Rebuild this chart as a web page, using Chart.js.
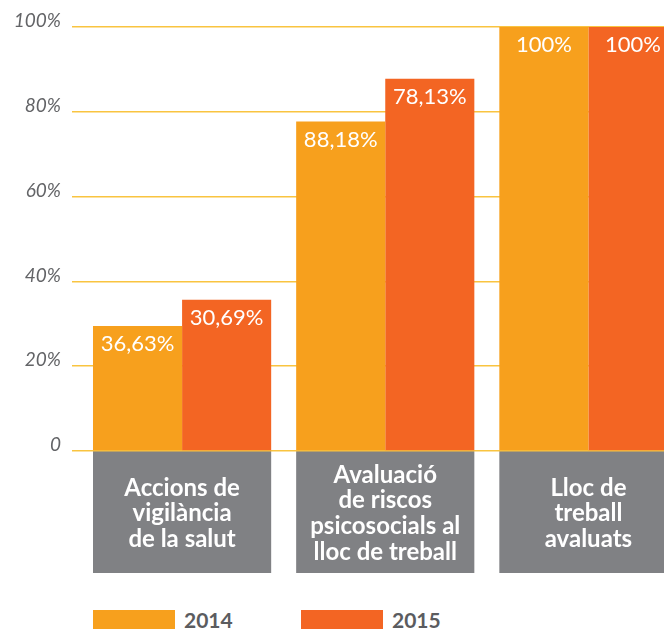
<!DOCTYPE html>
<html>
<head>
<meta charset="utf-8">
<script src="https://cdn.jsdelivr.net/npm/chart.js@4.4.0/dist/chart.umd.min.js"></script>
<style>
    body { margin: 0; background: #fff; overflow: hidden; width: 664px; height: 630px; position: relative; }
    #chart { display: block; }
    #legend { position: absolute; left: 93px; top: 610px; display: flex; font-family: Lato, sans-serif; font-weight: bold; font-size: 21px; color: #5b5c5f; }
    .item { display: flex; align-items: center; width: 208px; height: 19px; }
    .swatch { width: 82px; height: 19px; margin-right: 9px; }
</style>
</head>
<body>
<canvas id="chart" width="690" height="600"></canvas>
<div id="legend"></div>
<script>
// Categories and series
var categories = [
    ["Accions de", "vigilància", "de la salut"],
    ["Avaluació", "de riscos", "psicosocials al", "lloc de treball"],
    ["Lloc de", "treball", "avaluats"]
];
var seriesNames = ["2014", "2015"];
// bar heights
var values2014 = [29.5, 77.7, 100];
var values2015 = [35.7, 87.8, 100];
// texts printed on the bars
var labels2014 = ["36,63%", "88,18%", "100%"];
var labels2015 = ["30,69%", "78,13%", "100%"];
var yTicks = [0, 20, 40, 60, 80, 100];

var colors = ["#F7A01D", "#F36523"];
var catPct = 0.877;

// gray boxes behind the category labels
var categoryBoxes = {
    id: "categoryBoxes",
    beforeDraw: function (chart) {
        var x = chart.scales.x;
        var area = chart.chartArea;
        var ctx = chart.ctx;
        var w = (x.getPixelForValue(1) - x.getPixelForValue(0)) * catPct;
        ctx.save();
        ctx.fillStyle = "#808184";
        for (var i = 0; i < categories.length; i++) {
            var c = x.getPixelForValue(i);
            ctx.fillRect(c - w / 2, area.bottom, w, x.bottom - area.bottom);
        }
        ctx.restore();
    }
};

// value texts inside the bars
var barLabels = {
    id: "barLabels",
    afterDatasetsDraw: function (chart) {
        var ctx = chart.ctx;
        var texts = [labels2014, labels2015];
        ctx.save();
        ctx.font = "22px Lato";
        ctx.fillStyle = "#fff";
        ctx.textAlign = "center";
        ctx.textBaseline = "middle";
        chart.data.datasets.forEach(function (ds, d) {
            chart.getDatasetMeta(d).data.forEach(function (bar, i) {
                ctx.fillText(texts[d][i], bar.x, bar.y + 18);
            });
        });
        ctx.restore();
    }
};

var chart = new Chart(document.getElementById("chart"), {
    type: "bar",
    data: {
        labels: categories,
        datasets: [
            { label: seriesNames[0], data: values2014, backgroundColor: colors[0] },
            { label: seriesNames[1], data: values2015, backgroundColor: colors[1] }
        ]
    },
    options: {
        responsive: false,
        animation: false,
        categoryPercentage: catPct,
        barPercentage: 1,
        layout: { padding: { top: 27, bottom: 27, left: 0, right: 0 } },
        plugins: {
            legend: { display: false },
            tooltip: { enabled: false }
        },
        scales: {
            x: {
                grid: { display: false },
                border: { display: false },
                afterFit: function (scale) { scale.height = 122; },
                ticks: {
                    color: "#fff",
                    padding: 16,
                    maxRotation: 0,
                    autoSkip: false,
                    crossAlign: "center",
                    font: { family: "Lato", weight: "bold", size: 24, lineHeight: 1.07 }
                }
            },
            y: {
                min: 0,
                max: 100,
                afterFit: function (scale) { scale.width = 80.5; },
                afterBuildTicks: function (scale) {
                    scale.ticks = yTicks.map(function (v) { return { value: v }; });
                },
                border: { display: false },
                grid: { color: "#F9C440", lineWidth: 1.5, tickLength: 8.5 },
                ticks: {
                    color: "#636467",
                    padding: 11,
                    labelOffset: -6,
                    font: { family: "Lato", style: "italic", size: 19 },
                    callback: function (v) { return v === 0 ? "0" : v + "%"; }
                }
            }
        }
    },
    plugins: [categoryBoxes, barLabels]
});

// legend built from the datasets
var legend = document.getElementById("legend");
chart.data.datasets.forEach(function (ds) {
    var item = document.createElement("div");
    item.className = "item";
    var sw = document.createElement("span");
    sw.className = "swatch";
    sw.style.background = ds.backgroundColor;
    var txt = document.createElement("span");
    txt.textContent = ds.label;
    item.appendChild(sw);
    item.appendChild(txt);
    legend.appendChild(item);
});
</script>
</body>
</html>
